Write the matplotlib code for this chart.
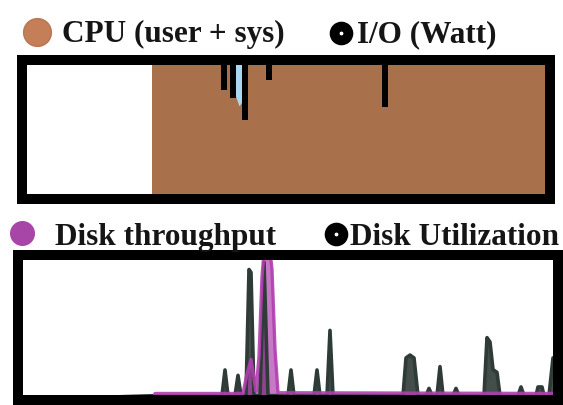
import matplotlib
matplotlib.use('Agg')
import matplotlib.pyplot as plt
import numpy as np

# top panel: CPU (user + sys) and I/O power, time in seconds
cpu_t = [0, 130, 528]
cpu_v = [0, 100, 100]
io_t = [201.5, 210.5, 223, 247, 363]
io_v = [21.6, 27.3, 43, 14.4, 33.8]
wait_t = [212, 213, 217, 220, 222, 223]
wait_v = [0, 25, 33, 30, 20, 0]

# bottom panel: disk throughput and disk utilization (%)
disk_tp_t = [0, 136, 137, 225, 229, 233, 236, 238, 241, 244, 247, 251,
             254, 257, 260, 540]
disk_tp_v = [0, 0, 4.5, 4.5, 18, 28, 15, 6, 30, 85, 110, 110,
             90, 35, 5, 4.5]

disk_ut_t = [0, 137, 204, 207, 210, 217, 220, 223, 228, 231, 233, 236,
             242, 246, 250, 270, 273, 276, 296, 299, 302, 309, 312, 315,
             385, 388, 392, 396, 400, 408, 411, 414, 419, 422, 425,
             435, 438, 441, 466, 469, 472, 475, 479, 482, 500, 503, 506,
             518, 520, 524, 526, 531, 535, 540]
disk_ut_v = [0, 3, 3, 20.7, 3, 3, 17, 3, 3, 90, 88, 3,
             3, 95, 3, 3, 20.7, 3, 3, 20.7, 3, 3, 48, 3,
             3, 29, 31, 29, 3, 3, 8, 3, 3, 23, 3,
             3, 8, 3, 3, 43, 40, 21, 19, 3, 3, 9, 3,
             3, 9, 9, 3, 3, 29, 29]

W, H = 563, 405
fig = plt.figure(figsize=(W / 100, H / 100), dpi=100)
plt.rcParams['font.family'] = ['Liberation Serif', 'DejaVu Serif']


def box(x0, y0, x1, y1):
    # pixel box -> figure axes
    return fig.add_axes([x0 / W, 1 - y1 / H, (x1 - x0) / W, (y1 - y0) / H])


def frame(ax):
    ax.set_xticks([])
    ax.set_yticks([])
    for s in ax.spines.values():
        s.set_linewidth(7.2)
        s.set_color('black')


# --- top panel
ax1 = box(22, 60, 550, 199)
ax1.fill_between(cpu_t, 0, cpu_v, step='post', color='#a8704b', lw=0)
ax1.set_xlim(0, 528)
ax1.set_ylim(0, 100)
frame(ax1)

ax1b = ax1.twinx()
ax1b.fill_between(wait_t, 0, wait_v, color='#a9d6f0', lw=0)
ax1b.bar(io_t, io_v, width=6, color='black')
ax1b.set_ylim(100, 0)
ax1b.set_xlim(0, 528)
frame(ax1b)

# --- bottom panel
ax2 = box(18, 255, 558, 400)
ax2.fill_between(disk_ut_t, 0, disk_ut_v, color='#2e3b37', alpha=0.9, lw=0)
ax2.plot(disk_ut_t, disk_ut_v, color='#2e3b37', lw=2.6,
         solid_joinstyle='round')
ax2.fill_between(disk_tp_t, 0, disk_tp_v, color='#b040b0', alpha=0.7, lw=0)
ax2.plot(disk_tp_t, disk_tp_v, color='#b040b0', lw=2.4, alpha=0.9)
ax2.set_xlim(0, 540)
ax2.set_ylim(0, 100)
frame(ax2)

# --- legends
leg = fig.add_axes([0, 0, 1, 1], facecolor='none')
leg.set_xlim(0, W)
leg.set_ylim(H, 0)
leg.axis('off')
leg.plot(37, 32, 'o', ms=20, color='#c47f58', mec='#b87550')
leg.plot(341, 33, 'o', ms=10, mfc='white', mec='black', mew=7)
leg.plot(22, 233, 'o', ms=17, color='#a846a8')
leg.plot(336, 234, 'o', ms=10, mfc='white', mec='black', mew=7)

txt = dict(fontsize=22.5, fontweight='bold', color='#151515', va='baseline')
leg.text(62, 42, 'CPU (user + sys)', **txt)
leg.text(357, 42, 'I/O (Watt)', **txt)
leg.text(55, 245, 'Disk throughput', **txt)
leg.text(350, 245, 'Disk Utilization', **txt)

fig.savefig('out.png', dpi=100)
